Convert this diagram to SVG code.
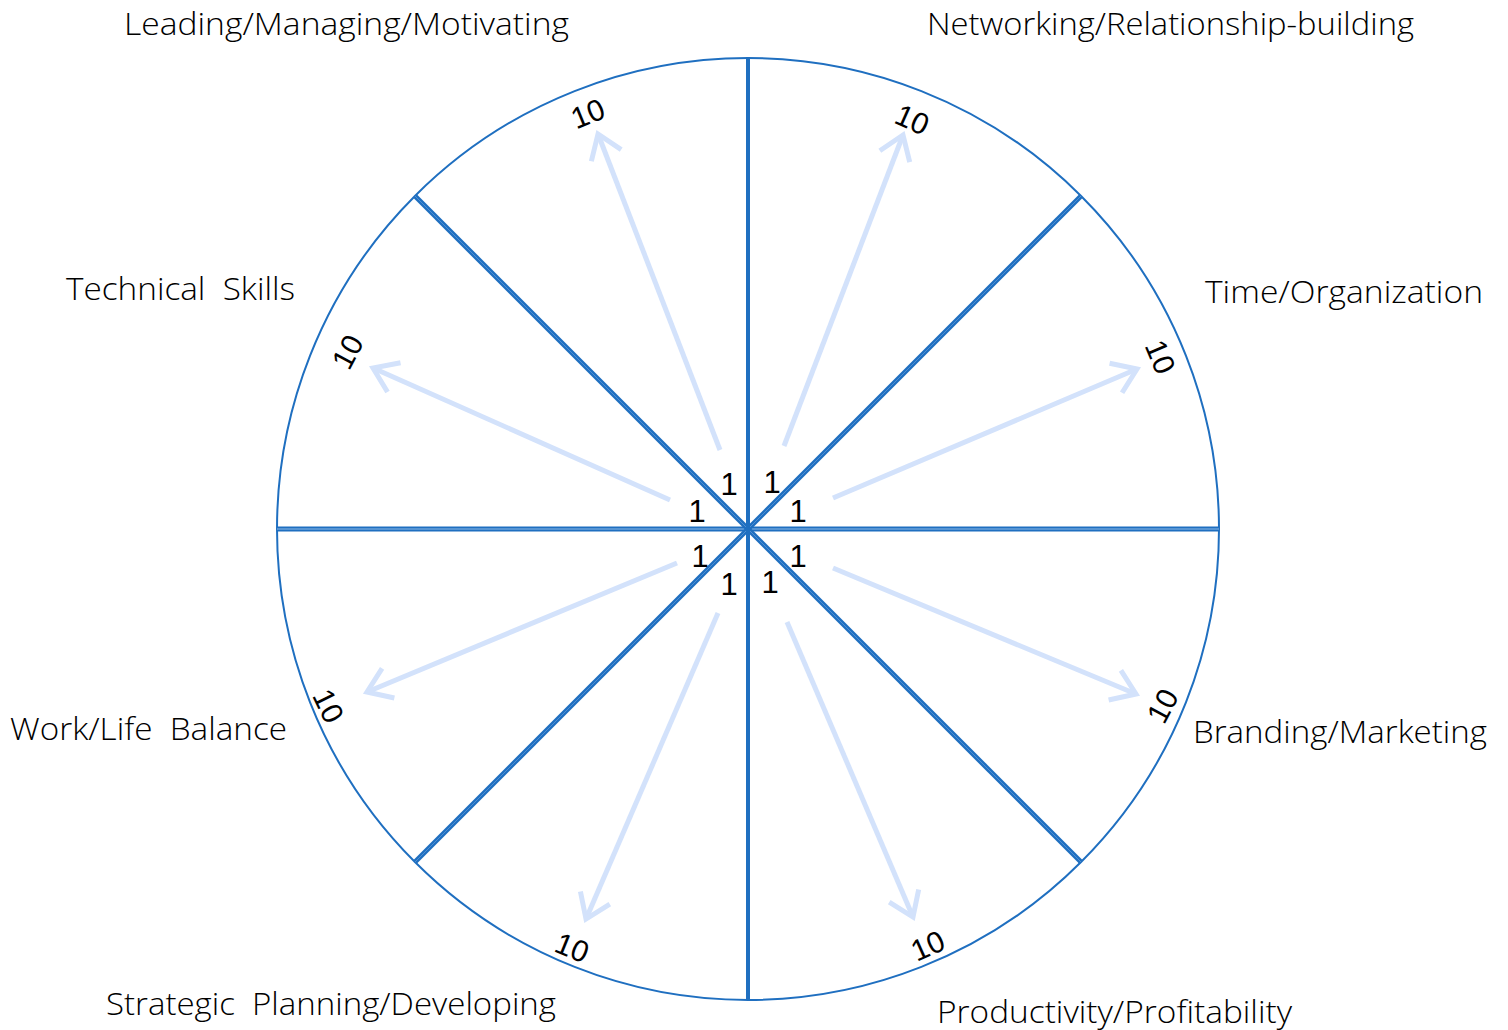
<svg xmlns="http://www.w3.org/2000/svg" width="1508" height="1030" viewBox="0 0 1508 1030">
  <defs>
    <style>
      .rim { fill: none; stroke: #1f6fc0; stroke-width: 2; }
      .spoke { stroke: #1f6fc0; stroke-width: 5; }
      .spoke-core { stroke: #8fbbe8; stroke-width: 1.2; }
      .diag-core { stroke: #4f8fd3; stroke-width: 1; }
      .axis { stroke: #1f6fc0; stroke-width: 4; }
      .arrow { stroke: #d3e2fb; stroke-width: 5; fill: none; marker-end: url(#head); }
      .cat { font-family: "Open Sans", "Noto Sans", sans-serif; font-weight: 300; font-size: 31px; fill: #000; word-spacing: 8px; }
      .one { font-family: "Liberation Sans", Arial, sans-serif; font-size: 31px; fill: #000; text-anchor: middle; }
      .ten { font-family: "Liberation Sans", Arial, sans-serif; font-size: 30px; fill: #000; text-anchor: middle; }
    </style>
    <marker id="head" markerUnits="userSpaceOnUse" markerWidth="40" markerHeight="40" refX="0" refY="0" viewBox="-30 -20 40 40" orient="auto">
      <path d="M-23,-16 L0,0 L-23,16" fill="none" stroke="#d3e2fb" stroke-width="5" stroke-linecap="butt"/>
    </marker>
  </defs>

  <rect width="1508" height="1030" fill="#fff"/>

  <g id="wheel">
    <circle class="rim" cx="748" cy="529" r="471"/>
  </g>

  <g id="connectors">
    <!-- spokes dividing the wheel into eight segments -->
    <line class="spoke" x1="277" y1="529" x2="1219" y2="529"/>
    <line class="spoke-core" x1="277" y1="529" x2="1219" y2="529"/>
    <line class="spoke" x1="415" y1="196" x2="1081" y2="862"/>
    <line class="diag-core" x1="415" y1="196" x2="1081" y2="862"/>
    <line class="spoke" x1="1081" y1="196" x2="415" y2="862"/>
    <line class="diag-core" x1="1081" y1="196" x2="415" y2="862"/>
    <line class="axis" x1="748" y1="58" x2="748" y2="1000"/>

    <!-- scale arrows from 1 to 10 -->
    <line class="arrow" x1="720" y1="450" x2="598" y2="134"/>
    <line class="arrow" x1="784" y1="446" x2="903" y2="135"/>
    <line class="arrow" x1="833" y1="498" x2="1137" y2="369"/>
    <line class="arrow" x1="833" y1="568" x2="1136" y2="694"/>
    <line class="arrow" x1="787" y1="622" x2="913" y2="917"/>
    <line class="arrow" x1="718" y1="613" x2="586" y2="919"/>
    <line class="arrow" x1="677" y1="563" x2="367" y2="692"/>
    <line class="arrow" x1="670" y1="500" x2="373" y2="368"/>
  </g>

  <g id="scale-min">
    <text class="one" x="729" y="495">1</text>
    <text class="one" x="772" y="493">1</text>
    <text class="one" x="697" y="522">1</text>
    <text class="one" x="798" y="522">1</text>
    <text class="one" x="700" y="567">1</text>
    <text class="one" x="798" y="567">1</text>
    <text class="one" x="729" y="595">1</text>
    <text class="one" x="770" y="593">1</text>
  </g>

  <g id="scale-max">
    <text class="ten" transform="translate(588,114) rotate(-22)" y="10">10</text>
    <text class="ten" transform="translate(912,120) rotate(24)" y="10">10</text>
    <text class="ten" transform="translate(1160,357) rotate(67)" y="10">10</text>
    <text class="ten" transform="translate(348,352) rotate(-62)" y="10">10</text>
    <text class="ten" transform="translate(328,706) rotate(64)" y="10">10</text>
    <text class="ten" transform="translate(1163,706) rotate(-62)" y="10">10</text>
    <text class="ten" transform="translate(572,948) rotate(22)" y="10">10</text>
    <text class="ten" transform="translate(928,946) rotate(-24)" y="10">10</text>
  </g>

  <g id="node-leading">
    <text class="cat" x="124" y="35" textLength="445" lengthAdjust="spacingAndGlyphs">Leading/Managing/Motivating</text>
  </g>
  <g id="node-networking">
    <text class="cat" x="927" y="35" textLength="487" lengthAdjust="spacingAndGlyphs">Networking/Relationship-building</text>
  </g>
  <g id="node-technical">
    <text class="cat" x="66" y="300" textLength="229" lengthAdjust="spacingAndGlyphs">Technical Skills</text>
  </g>
  <g id="node-time">
    <text class="cat" x="1205" y="303" textLength="278" lengthAdjust="spacingAndGlyphs">Time/Organization</text>
  </g>
  <g id="node-worklife">
    <text class="cat" x="10" y="740" textLength="277" lengthAdjust="spacingAndGlyphs">Work/Life Balance</text>
  </g>
  <g id="node-branding">
    <text class="cat" x="1193" y="743" textLength="294" lengthAdjust="spacingAndGlyphs">Branding/Marketing</text>
  </g>
  <g id="node-strategic">
    <text class="cat" x="106" y="1015" textLength="450" lengthAdjust="spacingAndGlyphs">Strategic Planning/Developing</text>
  </g>
  <g id="node-productivity">
    <text class="cat" x="937" y="1023" textLength="355" lengthAdjust="spacingAndGlyphs">Productivity/Profitability</text>
  </g>
</svg>
